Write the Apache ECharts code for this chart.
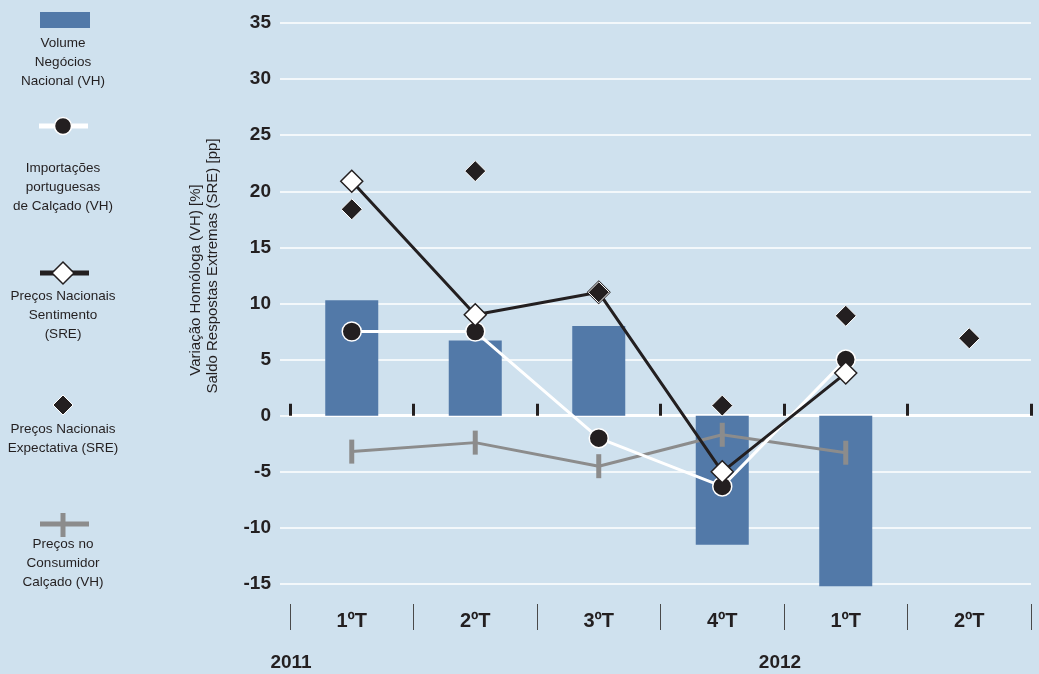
<!DOCTYPE html>
<html>
<head>
<meta charset="utf-8">
<script src="https://cdn.jsdelivr.net/npm/echarts@6/dist/echarts.min.js"></script>
<style>
  html, body { margin: 0; padding: 0; background: #cfe1ee; }
  #chart { width: 1039px; height: 674px; }
</style>
</head>
<body>
<div id="chart"></div>
<script>
// Quarter categories and year labels
const quarters = ['1ºT', '2ºT', '3ºT', '4ºT', '1ºT', '2ºT'];
const years = ['2011', '2012'];

// Series values (VH in %, SRE in pp); '-' marks a missing value
const volumeNegocios   = [10.3, 6.7, 8.0, -11.5, -15.2, '-'];
const importacoes      = [7.5, 7.5, -2.0, -6.3, 5.0, '-'];
const precosSentimento = [20.9, 9.0, 11.0, -5.0, 3.8, '-'];
const precosExpectativa = [18.4, 21.8, 11.0, 0.9, 8.9, 6.9];
const precosConsumidor = [-3.2, -2.4, -4.5, -1.7, -3.3, '-'];

// Value axis range
const yMin = -15, yMax = 35, yStep = 5;

// Legend texts
const legendNames = [
  'Volume\nNegócios\nNacional (VH)',
  'Importações\nportuguesas\nde Calçado (VH)',
  'Preços Nacionais\nSentimento\n(SRE)',
  'Preços Nacionais\nExpectativa (SRE)',
  'Preços no\nConsumidor\nCalçado (VH)'
];
const axisTitle = ['Variação Homóloga (VH) [%]', 'Saldo Respostas Extremas (SRE) [pp]'];

const INK = '#231f20';
const BLUE = '#5279a8';
const GREY = '#8c8c8c';
const FONT = "'Liberation Sans', Arial, sans-serif";

const chart = echarts.init(document.getElementById('chart'), null, { renderer: 'canvas' });

function legendText(text, cy) {
  return {
    type: 'text', x: 63, y: cy - 9.5, silent: true,
    style: { text: text, align: 'center', verticalAlign: 'top', lineHeight: 19,
             font: '13.5px ' + FONT, fill: INK }
  };
}

const graphics = [
  // legend: bars
  { type: 'rect', shape: { x: 40, y: 12, width: 50, height: 16 }, style: { fill: BLUE } },
  legendText(legendNames[0], 43),
  // legend: white line with black dot
  { type: 'line', shape: { x1: 39, y1: 126, x2: 88, y2: 126 }, style: { stroke: '#ffffff', lineWidth: 5 } },
  { type: 'circle', shape: { cx: 63, cy: 126, r: 8.5 }, style: { fill: INK, stroke: '#ffffff', lineWidth: 1.5 } },
  legendText(legendNames[1], 168),
  // legend: black line with white diamond
  { type: 'line', shape: { x1: 40, y1: 273, x2: 89, y2: 273 }, style: { stroke: INK, lineWidth: 5 } },
  { type: 'polygon', shape: { points: [[63, 262], [74, 273], [63, 284], [52, 273]] },
    style: { fill: '#ffffff', stroke: INK, lineWidth: 1.5 } },
  legendText(legendNames[2], 296),
  // legend: black diamond
  { type: 'polygon', shape: { points: [[63, 395], [73, 405], [63, 415], [53, 405]] },
    style: { fill: INK, stroke: '#ffffff', lineWidth: 1 } },
  legendText(legendNames[3], 429),
  // legend: grey cross
  { type: 'line', shape: { x1: 40, y1: 524, x2: 89, y2: 524 }, style: { stroke: GREY, lineWidth: 5 } },
  { type: 'line', shape: { x1: 63, y1: 513, x2: 63, y2: 537 }, style: { stroke: GREY, lineWidth: 5 } },
  legendText(legendNames[4], 544),
  // rotated axis title, two lines
  { type: 'text', x: 196, y: 280, rotation: Math.PI / 2, silent: true,
    style: { text: axisTitle[0], align: 'center', verticalAlign: 'middle', font: '15px ' + FONT, fill: INK } },
  { type: 'text', x: 213, y: 266, rotation: Math.PI / 2, silent: true,
    style: { text: axisTitle[1], align: 'center', verticalAlign: 'middle', font: '15px ' + FONT, fill: INK } },
  // year labels
  { type: 'text', x: 291, y: 663, silent: true,
    style: { text: years[0], align: 'center', verticalAlign: 'middle', font: 'bold 19px ' + FONT, fill: INK } },
  { type: 'text', x: 780, y: 663, silent: true,
    style: { text: years[1], align: 'center', verticalAlign: 'middle', font: 'bold 19px ' + FONT, fill: INK } }
];

const option = {
  animation: false,
  backgroundColor: '#cfe1ee',
  grid: { left: 290, right: 8, top: 23, bottom: 90, containLabel: false },
  xAxis: [
    {
      // axis drawn along zero with inward tick marks
      type: 'category', data: quarters, position: 'bottom',
      axisLine: { show: true, onZero: true, lineStyle: { color: '#ffffff', width: 3 } },
      axisTick: { show: true, inside: true, length: 12, lineStyle: { color: INK, width: 3 } },
      axisLabel: { show: false },
      splitLine: { show: false }
    },
    {
      // quarter labels row below the plot
      type: 'category', data: quarters, position: 'bottom', offset: 20,
      axisLine: { show: false, onZero: false },
      axisTick: { show: true, length: 26, lineStyle: { color: '#4a4a4a', width: 1 } },
      axisLabel: { show: true, margin: 7, color: INK, fontWeight: 'bold', fontSize: 20, fontFamily: FONT },
      splitLine: { show: false }
    }
  ],
  yAxis: {
    type: 'value', min: yMin, max: yMax, interval: yStep,
    axisLine: { show: false },
    axisTick: { show: true, length: 10, lineStyle: { color: '#ffffff', width: 1.5 } },
    axisLabel: { color: INK, fontWeight: 'bold', fontSize: 19, fontFamily: FONT, margin: 19 },
    splitLine: { show: true, lineStyle: { color: '#ffffff', width: 1.5 } }
  },
  series: [
    {
      name: legendNames[0], type: 'bar', data: volumeNegocios, barWidth: 53, clip: false,
      itemStyle: { color: BLUE }, z: 2
    },
    {
      name: legendNames[4], type: 'line', data: precosConsumidor,
      lineStyle: { color: GREY, width: 3 },
      symbol: 'rect', symbolSize: [5, 24], showSymbol: true,
      itemStyle: { color: GREY, borderWidth: 0 }, z: 3
    },
    {
      name: legendNames[1], type: 'line', data: importacoes,
      lineStyle: { color: '#ffffff', width: 3 },
      symbol: 'circle', symbolSize: 19, showSymbol: true,
      itemStyle: { color: INK, borderColor: '#ffffff', borderWidth: 1.5 }, z: 4
    },
    {
      name: legendNames[2], type: 'line', data: precosSentimento,
      lineStyle: { color: INK, width: 3 },
      symbol: 'diamond', symbolSize: 22, showSymbol: true,
      itemStyle: { color: '#ffffff', borderColor: INK, borderWidth: 1.5 }, z: 5
    },
    {
      name: legendNames[3], type: 'scatter', data: precosExpectativa,
      symbol: 'diamond', symbolSize: 21,
      itemStyle: { color: INK, opacity: 1, borderColor: '#ffffff', borderWidth: 1 }, z: 6
    }
  ],
  graphic: graphics
};

chart.setOption(option);
</script>
</body>
</html>
